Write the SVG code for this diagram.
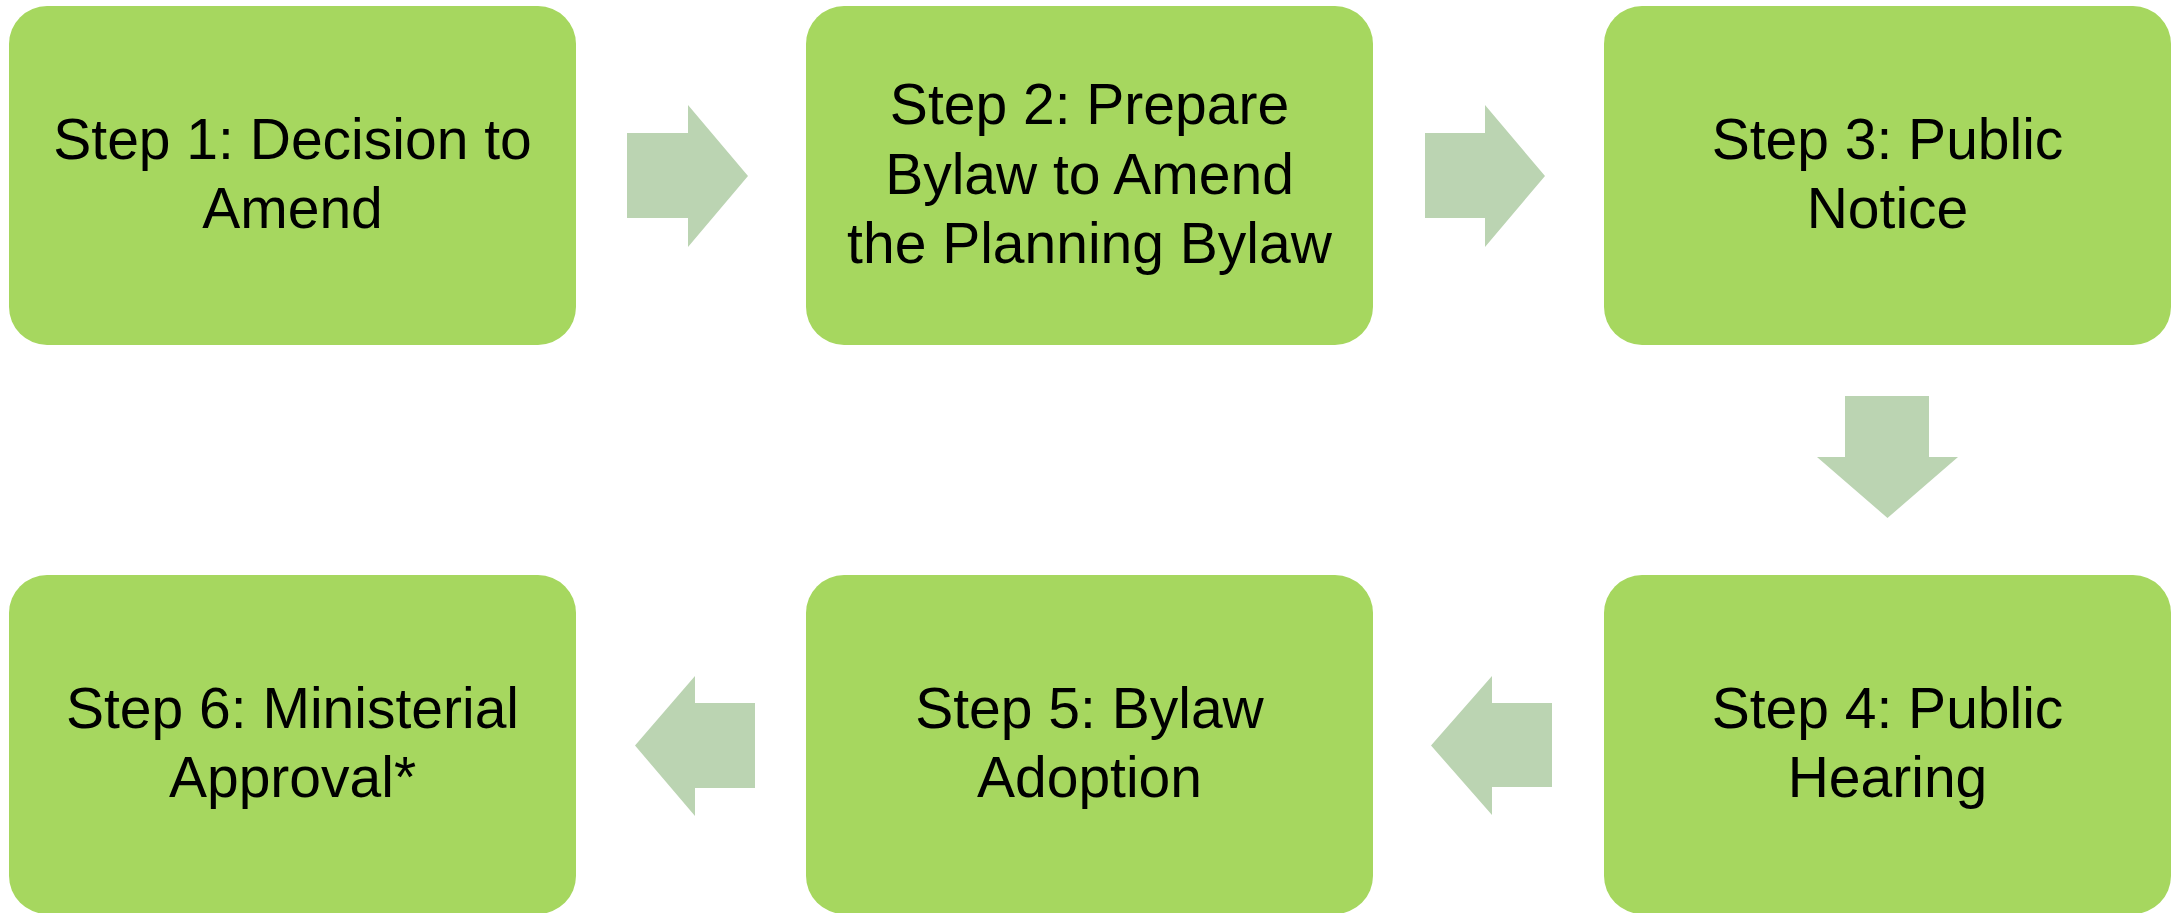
<svg xmlns="http://www.w3.org/2000/svg" width="2175" height="913" viewBox="0 0 2175 913">
<style>
.box{fill:#A6D75F;}
.arr{fill:#BBD4B2;}
.lbl{font-family:"Liberation Sans",Arial,sans-serif;font-size:57px;fill:#000;text-anchor:middle;}
</style>
<rect width="2175" height="913" fill="#FFFFFF"/>
<g id="connectors">
<polygon class="arr" points="627,133 688,133 688,105 748,176 688,247 688,218 627,218"/>
<polygon class="arr" points="1425,133 1485,133 1485,105 1545,176 1485,247 1485,218 1425,218"/>
<polygon class="arr" points="1845,396 1929,396 1929,457 1958,457 1887.5,518 1817,457 1845,457"/>
<polygon class="arr" points="1552,703 1492,703 1492,676 1431,745.5 1492,815 1492,787 1552,787"/>
<polygon class="arr" points="755,703 695,703 695,676 635,745.5 695,816 695,788 755,788"/>
</g>
<g id="step1">
<rect class="box" x="9" y="6" width="567" height="339" rx="38" ry="38"/>
<text class="lbl" x="292.5" y="159">Step 1: Decision to</text>
<text class="lbl" x="292.5" y="228">Amend</text>
</g>
<g id="step2">
<rect class="box" x="806" y="6" width="567" height="339" rx="38" ry="38"/>
<text class="lbl" x="1089.5" y="124">Step 2: Prepare</text>
<text class="lbl" x="1089.5" y="193.5">Bylaw to Amend</text>
<text class="lbl" x="1089.5" y="263">the Planning Bylaw</text>
</g>
<g id="step3">
<rect class="box" x="1604" y="6" width="567" height="339" rx="38" ry="38"/>
<text class="lbl" x="1887.5" y="159">Step 3: Public</text>
<text class="lbl" x="1887.5" y="228">Notice</text>
</g>
<g id="step4">
<rect class="box" x="1604" y="575" width="567" height="339" rx="38" ry="38"/>
<text class="lbl" x="1887.5" y="728">Step 4: Public</text>
<text class="lbl" x="1887.5" y="797">Hearing</text>
</g>
<g id="step5">
<rect class="box" x="806" y="575" width="567" height="339" rx="38" ry="38"/>
<text class="lbl" x="1089.5" y="728">Step 5: Bylaw</text>
<text class="lbl" x="1089.5" y="797">Adoption</text>
</g>
<g id="step6">
<rect class="box" x="9" y="575" width="567" height="339" rx="38" ry="38"/>
<text class="lbl" x="292.5" y="728">Step 6: Ministerial</text>
<text class="lbl" x="292.5" y="797">Approval*</text>
</g>
</svg>
